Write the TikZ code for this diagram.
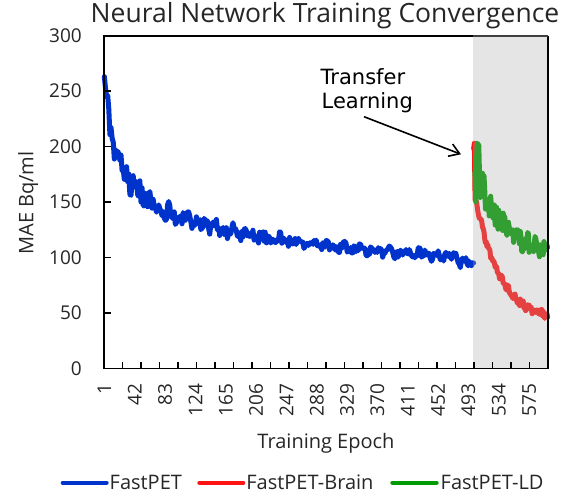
\documentclass[tikz,border=0pt]{standalone}
\usepackage{fontspec}
\setmainfont{Open Sans}
\newfontfamily\annfont{DejaVu Sans}
\usetikzlibrary{arrows.meta}
\definecolor{cblue}{RGB}{0,51,204}
\definecolor{cred}{RGB}{255,20,20}
\definecolor{cgreen}{RGB}{0,155,0}
\definecolor{ctext}{RGB}{38,38,38}
\definecolor{cshade}{RGB}{170,170,170}
\begin{document}
\begin{tikzpicture}[x=1pt,y=-1pt,
  declare function={px(\xx)=104+(\xx-0.5)*0.74; py(\yy)=368.5-1.11*\yy;},
  series/.style={line width=5pt, line join=round, line cap=round},
  ticklab/.style={font=\fontsize{19}{22}\selectfont, text=ctext, inner sep=0pt},
  axtitle/.style={font=\fontsize{20}{24}\selectfont, text=ctext, inner sep=0pt},
  legline/.style={line width=4pt, line cap=round},
  leglab/.style={font=\fontsize{20}{24}\selectfont, text=ctext, inner sep=0pt, anchor=west},
  annlab/.style={font=\annfont\fontsize{21}{24}\selectfont, text=black, inner sep=0pt, anchor=base west},
]
\useasboundingbox (0,0) rectangle (576,497);
% data series
\pgfmathsetseed{7}
\draw[series, cblue] plot[domain=1:500, samples=334, variable=\ep]
  ({px(\ep)},{py(min(258,346*pow(\ep+2,-0.2)) - 6*max(0,(\ep-465)/35) + (4+10*exp(-\ep/80))*rand + 2*sin(17*\ep) + 1.5*sin(29*\ep+30))});
\pgfmathsetseed{11}
\draw[series, cred] ({px(500)},{py(198)}) -- ({px(501)},{py(203)}) -- ({px(502)},{py(152)})
  -- plot[domain=504:600, samples=97, variable=\ep] ({px(\ep)},{py(42+95*exp(-(\ep-508)/33)+3*rand+1.5*sin(40*(\ep-500)))});
\pgfmathsetseed{23}
\draw[series, cgreen] ({px(502)},{py(178)}) -- ({px(503)},{py(150)}) -- ({px(504)},{py(190)})
  -- ({px(505)},{py(203)}) -- ({px(507)},{py(201)}) -- ({px(508)},{py(172)})
  -- plot[domain=509:600, samples=92, variable=\ep] ({px(\ep)},{py(92+80*exp(-(\ep-505)/50)+(7+12*exp(-(\ep-505)/30))*rand+3*sin(31*(\ep-500)))});
% shaded transfer region
\fill[cshade, opacity=0.3] (473.3,35.7) rectangle (548.3,368.5);
% frame
\draw[line width=1.8pt, black] (473.3,35.7) -- (104,35.7) -- (104,368.5) -- (548.3,368.5) -- (548.3,35.7);
\draw[line width=1.8pt, black!75] (473.3,35.7) -- (548.3,35.7);
% ticks
\foreach \k in {1,...,23} \draw[line width=1.5pt] ({104+18.5*\k},368.5) -- ({104+18.5*\k},361.5);
\foreach \v in {50,100,...,250} \draw[line width=1.5pt] (104,{py(\v)}) -- (110.5,{py(\v)});
% tick labels
\foreach \v in {0,50,...,300} \node[ticklab, anchor=east] (yl\v) at (82,{py(\v)}) {\v};
\foreach \n in {1,42,...,575} \node[ticklab, anchor=east, rotate=90] (xl\n) at ({px(\n)},383.5) {\n};
% titles
\node[font=\fontsize{26.5}{31}\selectfont, text=ctext, inner sep=0pt, anchor=base] (title) at (325,23) {Neural Network Training Convergence};
\node[axtitle, anchor=base] (xtitle) at (326,448) {Training Epoch};
\node[axtitle, anchor=base, rotate=90] (ytitle) at (33.3,203) {MAE Bq/ml};
% annotation
\node[annlab] (tl1) at (320.5,85) {Transfer};
\node[annlab] (tl2) at (321.5,109) {Learning};
\coordinate (arrS) at (364,116.7);
\coordinate (arrE) at (461,154.3);
\draw[line width=1.6pt, -{Straight Barb[length=10pt,width=13pt]}] (arrS) -- (arrE);
% legend
\coordinate (lbA) at (62.7,482.7); \coordinate (lbB) at (106.7,482.7);
\coordinate (lrA) at (199.3,482.7); \coordinate (lrB) at (243.3,482.7);
\coordinate (lgA) at (392.3,482.7); \coordinate (lgB) at (436.7,482.7);
\draw[legline, cblue] (lbA) -- (lbB);
\draw[legline, cred] (lrA) -- (lrB);
\draw[legline, cgreen] (lgA) -- (lgB);
\node[leglab] (lt1) at (109.5,482) {FastPET};
\node[leglab] (lt2) at (246.2,482) {FastPET-Brain};
\node[leglab] (lt3) at (440.5,482) {FastPET-LD};
\end{tikzpicture}
\end{document}
